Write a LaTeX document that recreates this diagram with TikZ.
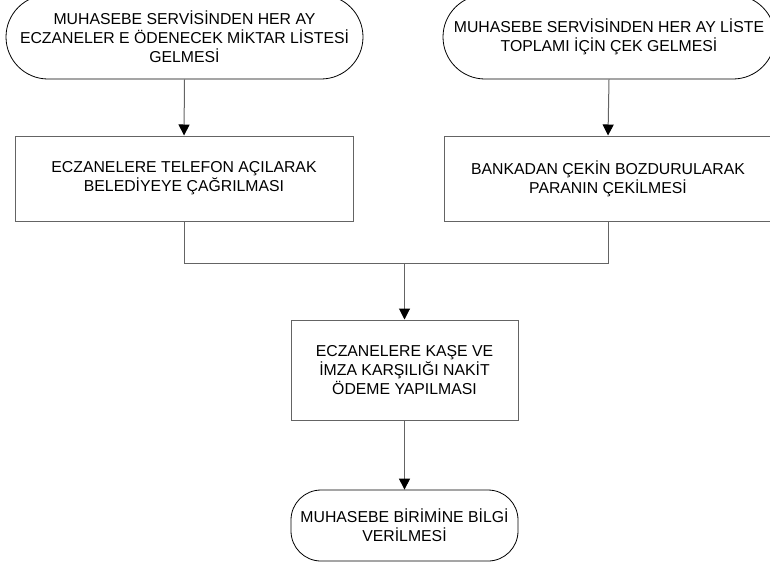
\documentclass[tikz,border=0pt]{standalone}
\usepackage{fontspec}
\setmainfont{Liberation Sans}
\usetikzlibrary{arrows.meta}
\definecolor{edgegray}{RGB}{100,100,100}
\tikzset{
  lbl/.style={font=\fontsize{15.8}{18.8}\selectfont, align=center, inner sep=0pt, text=black},
  procbox/.style={lbl, rectangle, draw=edgegray, line width=1pt},
  termbox/.style={lbl, rectangle, draw=black, line width=0.8pt},
  conn/.style={draw=edgegray, line width=1pt},
  flow/.style={conn, -{Triangle[width=11pt,length=11pt,color=black]}}
}
\begin{document}
\begin{tikzpicture}[x=1pt,y=-1pt]
\useasboundingbox (0,0) rectangle (770,566);
\begin{scope}
\clip (0,0) rectangle (770,566);
\node[termbox, rounded corners=42pt, minimum width=357pt, minimum height=84pt] (t1) at (184.5,37)
  {MUHASEBE SERVİSİNDEN HER AY\\ECZANELER E ÖDENECEK MİKTAR LİSTESİ\\GELMESİ};
\node[termbox, rounded corners=42pt, minimum width=332pt, minimum height=84pt] (t2) at (609,37)
  {MUHASEBE SERVİSİNDEN HER AY LİSTE\\TOPLAMI İÇİN ÇEK GELMESİ};
\node[procbox, minimum width=338pt, minimum height=85pt] (r1) at (184,178.5)
  {ECZANELERE TELEFON AÇILARAK\\BELEDİYEYE ÇAĞRILMASI};
\node[procbox, minimum width=328pt, minimum height=85pt] (r2) at (608,178.5)
  {BANKADAN ÇEKİN BOZDURULARAK\\PARANIN ÇEKİLMESİ};
\node[procbox, minimum width=227pt, minimum height=100pt] (r3) at (404.5,370)
  {ECZANELERE KAŞE VE\\İMZA KARŞILIĞI NAKİT\\ÖDEME YAPILMASI};
\node[termbox, rounded corners=30pt, minimum width=227pt, minimum height=71pt] (t3) at (404.5,525.5)
  {MUHASEBE BİRİMİNE BİLGİ\\VERİLMESİ};
\coordinate (j) at (404.5,263);
\draw[flow] (t1.south) -- (r1.north);
\draw[flow] (t2.south) -- (r2.north);
\draw[conn] (r1.south) -- (r1.south |- j) -- (r2.south |- j) -- (r2.south);
\draw[flow] (j) -- (r3.north);
\draw[flow] (r3.south) -- (t3.north);
\end{scope}
\end{tikzpicture}
\end{document}
